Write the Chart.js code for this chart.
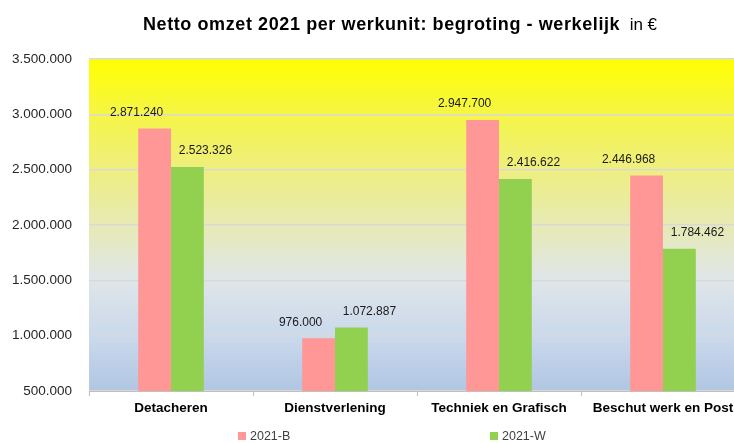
<!DOCTYPE html>
<html>
<head>
<meta charset="utf-8">
<script src="https://cdn.jsdelivr.net/npm/chart.js@4"></script>
<style>
    html, body { margin: 0; padding: 0; background: #fff; overflow: hidden; }
    #wrap { width: 800px; height: 443px; }
</style>
</head>
<body>
<div id="wrap"><canvas id="omzetChart"></canvas></div>
<script>
// Gegevens
const units = ["Detacheren", "Dienstverlening", "Techniek en Grafisch", "Beschut werk en Post"];
const begroting = [2871240, 976000, 2947700, 2446968];   // 2021-B
const werkelijk = [2523326, 1072887, 2416622, 1784462];  // 2021-W
const seriesNames = ["2021-B", "2021-W"];
const seriesColors = ["#FF9797", "#92D050"];
const yMin = 500000, yMax = 3500000, yStep = 500000;

const fmt = v => v.toLocaleString("de-DE");
const FONT = "'Liberation Sans', Arial, sans-serif";

// Titel met twee lettertypes
const titlePlugin = {
    id: "tweeTitel",
    afterDraw(chart) {
        const ctx = chart.ctx;
        const bold = "Netto omzet 2021 per werkunit: begroting - werkelijk";
        const rest = "  in €";
        ctx.save();
        ctx.fillStyle = "#000";
        ctx.textBaseline = "alphabetic";
        ctx.textAlign = "left";
        ctx.letterSpacing = "0.6px";
        ctx.font = "bold 18px " + FONT;
        const w1 = ctx.measureText(bold).width;
        ctx.letterSpacing = "0px";
        ctx.font = "17px " + FONT;
        const w2 = ctx.measureText(rest).width;
        const x = 400 - (w1 + w2) / 2;
        ctx.letterSpacing = "0.6px";
        ctx.font = "bold 18px " + FONT;
        ctx.fillText(bold, x, 30);
        ctx.letterSpacing = "0px";
        ctx.font = "17px " + FONT;
        ctx.fillText(rest, x + w1, 30);
        ctx.restore();
    }
};

// Achtergrond verloop in het plotgebied
const bgPlugin = {
    id: "verloop",
    beforeDraw(chart) {
        const { ctx, chartArea: a } = chart;
        const g = ctx.createLinearGradient(0, a.top, 0, a.bottom);
        g.addColorStop(0, "#FFFF00");
        g.addColorStop(0.17, "#F5F548");
        g.addColorStop(0.34, "#EEEE82");
        g.addColorStop(0.5, "#E6EAB4");
        g.addColorStop(0.66, "#DFE6E8");
        g.addColorStop(0.83, "#CBD9EC");
        g.addColorStop(1, "#B0C6E2");
        ctx.save();
        ctx.fillStyle = g;
        ctx.fillRect(a.left, a.top, a.right - a.left, a.bottom - a.top);
        ctx.restore();
    }
};

// Waardelabels boven de staven
const labelPlugin = {
    id: "waardes",
    afterDatasetsDraw(chart) {
        const ctx = chart.ctx;
        const shift = [-18, 18];
        ctx.save();
        ctx.font = "12px " + FONT;
        ctx.fillStyle = "#1a1a1a";
        ctx.textAlign = "center";
        ctx.textBaseline = "middle";
        chart.data.datasets.forEach((ds, di) => {
            chart.getDatasetMeta(di).data.forEach((bar, i) => {
                ctx.fillText(fmt(ds.data[i]), bar.x + shift[di], bar.y - 16);
            });
        });
        ctx.restore();
    }
};

// Legenda onderaan
const legendPlugin = {
    id: "legenda",
    afterDraw(chart) {
        const ctx = chart.ctx;
        const xs = [238, 490];
        ctx.save();
        ctx.font = "12.5px " + FONT;
        ctx.textBaseline = "middle";
        ctx.textAlign = "left";
        seriesNames.forEach((name, i) => {
            ctx.fillStyle = seriesColors[i];
            ctx.fillRect(xs[i], 432, 8, 8);
            ctx.fillStyle = "#404040";
            ctx.fillText(name, xs[i] + 12, 437);
        });
        ctx.restore();
    }
};

const ctx = document.getElementById("omzetChart").getContext("2d");
new Chart(ctx, {
    type: "bar",
    data: {
        labels: units,
        datasets: [
            { label: seriesNames[0], data: begroting, backgroundColor: seriesColors[0] },
            { label: seriesNames[1], data: werkelijk, backgroundColor: seriesColors[1] }
        ]
    },
    options: {
        responsive: true,
        maintainAspectRatio: false,
        animation: false,
        layout: { padding: { top: 59, right: 55, left: 0, bottom: 22 } },
        datasets: { bar: { categoryPercentage: 0.4, barPercentage: 1.0 } },
        plugins: {
            title: { display: false },
            tooltip: { enabled: false },
            legend: { display: false }
        },
        scales: {
            x: {
                grid: {
                    offset: true,
                    drawOnChartArea: false,
                    color: "#BFBFBF",
                    tickLength: 5
                },
                border: { color: "#BFBFBF" },
                ticks: {
                    color: "#000",
                    padding: 4,
                    font: { size: 13.5, weight: "bold", family: FONT }
                },
                afterFit(scale) { scale.height = 30; }
            },
            y: {
                min: yMin,
                max: yMax,
                border: { display: false },
                grid: { color: "#D9D9D9", lineWidth: 1.5, drawTicks: false },
                ticks: {
                    stepSize: yStep,
                    padding: 17,
                    color: "#262626",
                    font: { size: 13.5, family: FONT },
                    callback: v => fmt(v)
                },
                afterFit(scale) { scale.width = 89; }
            }
        }
    },
    plugins: [bgPlugin, labelPlugin, titlePlugin, legendPlugin]
});
</script>
</body>
</html>
